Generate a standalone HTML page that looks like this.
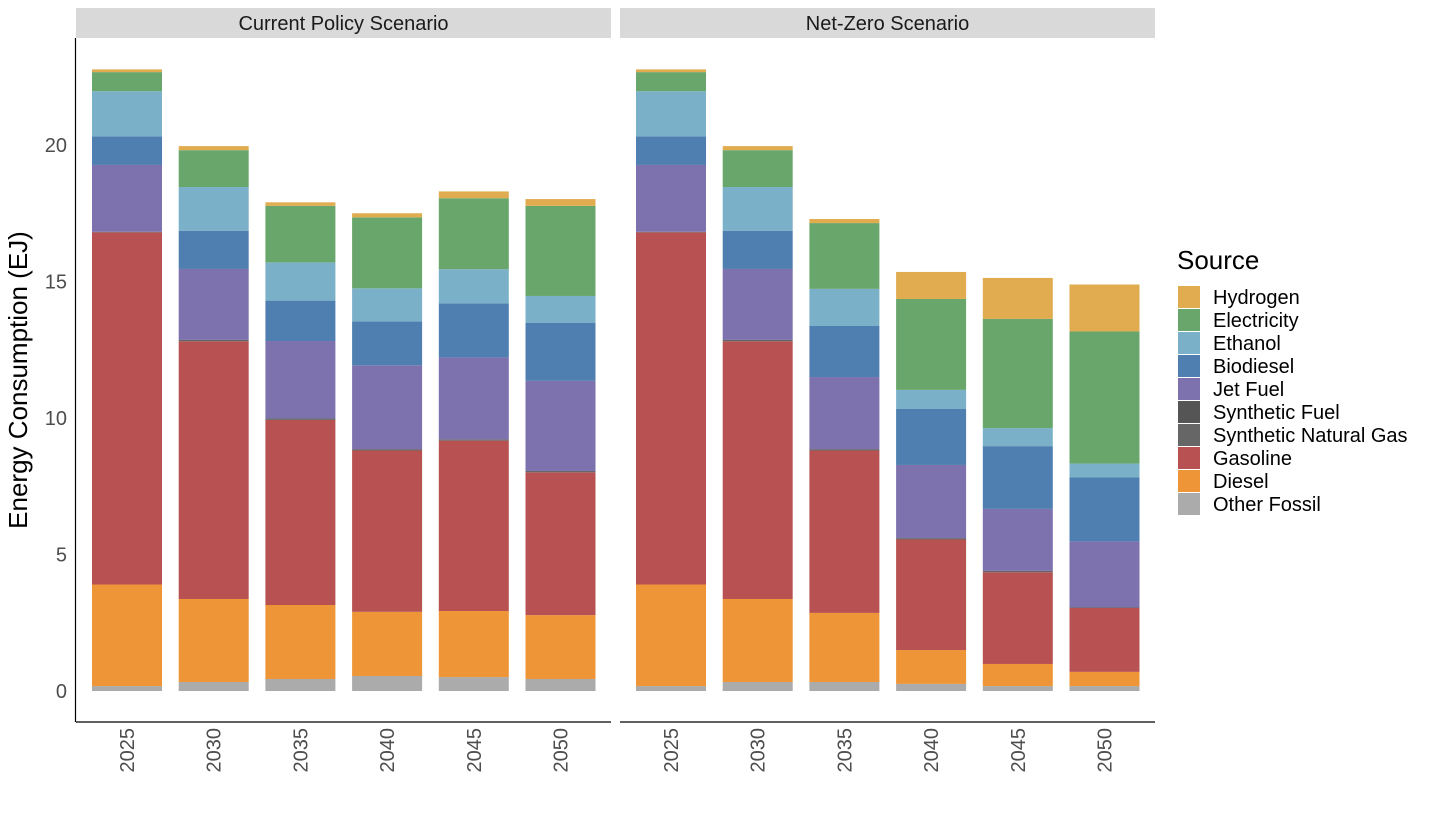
<!DOCTYPE html>
<html><head><meta charset="utf-8"><style>
body{margin:0;background:#fff;font-family:"Liberation Sans",Arial,sans-serif}
</style></head><body>
<svg id="c" width="1435" height="812" xmlns="http://www.w3.org/2000/svg"></svg>
<script>
const years=["2025","2030","2035","2040","2045","2050"];
const panels=["Current Policy Scenario","Net-Zero Scenario"];
const sources=["Other Fossil","Diesel","Gasoline","Synthetic Natural Gas","Synthetic Fuel","Jet Fuel","Biodiesel","Ethanol","Electricity","Hydrogen"];
const colors=["#ABABAB","#EE9537","#B85252","#666666","#555555","#7D72AE","#4F7FB0","#7AB0C8","#69A66B","#E0AC4F"];
const yTicks=[0,5,10,15,20];
// values per source, per year (current policy)
const cpOther=[0.18,0.33,0.44,0.55,0.51,0.44];
const cpDiesel=[3.72,3.04,2.71,2.35,2.42,2.34];
const cpGasoline=[12.9,9.44,6.78,5.91,6.24,5.23];
const cpSNG=[0.02,0.05,0.05,0.05,0.05,0.05];
const cpSynFuel=[0,0,0,0,0,0];
const cpJet=[2.45,2.6,2.84,3.07,3.0,3.3];
const cpBio=[1.05,1.4,1.48,1.61,1.98,2.12];
const cpEth=[1.65,1.6,1.4,1.21,1.25,0.99];
const cpElec=[0.7,1.35,2.07,2.6,2.6,3.3];
const cpH2=[0.1,0.15,0.13,0.15,0.25,0.25];
// net-zero
const nzOther=[0.18,0.33,0.33,0.26,0.18,0.18];
const nzDiesel=[3.72,3.04,2.53,1.24,0.81,0.52];
const nzGasoline=[12.9,9.44,5.95,4.05,3.36,2.34];
const nzSNG=[0.02,0.05,0.05,0.05,0.05,0.02];
const nzSynFuel=[0,0,0,0,0,0];
const nzJet=[2.45,2.6,2.64,2.68,2.27,2.42];
const nzBio=[1.05,1.4,1.87,2.05,2.3,2.34];
const nzEth=[1.65,1.6,1.36,0.7,0.66,0.51];
const nzElec=[0.7,1.35,2.41,3.33,4.0,4.84];
const nzH2=[0.1,0.15,0.15,0.99,1.5,1.72];
const cpSeries=[cpOther,cpDiesel,cpGasoline,cpSNG,cpSynFuel,cpJet,cpBio,cpEth,cpElec,cpH2];
const nzSeries=[nzOther,nzDiesel,nzGasoline,nzSNG,nzSynFuel,nzJet,nzBio,nzEth,nzElec,nzH2];
const allSeries=[cpSeries,nzSeries];

const NS="http://www.w3.org/2000/svg";
const svg=document.getElementById('c');
function mk(t,a,p){const e=document.createElementNS(NS,t);for(const k in a)e.setAttribute(k,a[k]);(p||svg).appendChild(e);return e;}
const y=v=>691-v*27.3;
const panelX=[76,620],panelW=535,step=86.7,barW=70;
const xc=(p,i)=>panelX[p]+51+i*step;

panels.forEach((name,p)=>{
  const s=mk('rect',{x:panelX[p],y:8,width:panelW,height:30,fill:'#D9D9D9'});
  
  
  const t=mk('text',{x:panelX[p]+panelW/2,y:30,'text-anchor':'middle','font-size':20,fill:'#1a1a1a'});
  t.textContent=name;
  
  
  years.forEach((yr,i)=>{
    let base=0;
    allSeries[p].forEach((ser,k)=>{
      const v=ser[i];
      if(v>0){
        const r=mk('rect',{x:xc(p,i)-barW/2,y:y(base+v),width:barW,height:v*27.3,fill:colors[k]});
        
        
      }
      base+=v;
    });
    const lb=mk('text',{transform:`translate(${xc(p,i)+7},728) rotate(-90)`,'text-anchor':'end','font-size':20,fill:'#4d4d4d'});
    lb.textContent=yr;
    
    
  });
});
// axes
const ax=mk('line',{x1:75.5,y1:38,x2:75.5,y2:722,stroke:'#000','stroke-width':1.2});


panelX.forEach(px=>{
  const b=mk('line',{x1:px,y1:722,x2:px+panelW,y2:722,stroke:'#000','stroke-width':1.2});
  
  
});
yTicks.forEach(v=>{
  const t=mk('text',{x:67,y:y(v)+7,'text-anchor':'end','font-size':20,fill:'#4d4d4d'});
  t.textContent=v;
  
  
});
const yt=mk('text',{transform:'translate(27,380) rotate(-90)','text-anchor':'middle','font-size':26,fill:'#000'});
yt.textContent='Energy Consumption (EJ)';


// legend
const lt=mk('text',{x:1177,y:269,'font-size':26,fill:'#000'});
lt.textContent='Source';


for(let j=0;j<sources.length;j++){
  const k=sources.length-1-j;
  const ly=286+j*23;
  const r=mk('rect',{x:1178,y:ly,width:22,height:22,fill:colors[k]});
  
  
  const t=mk('text',{x:1213,y:ly+18,'font-size':20,fill:'#000'});
  t.textContent=sources[k];
  
  
}
</script>
</body></html>
